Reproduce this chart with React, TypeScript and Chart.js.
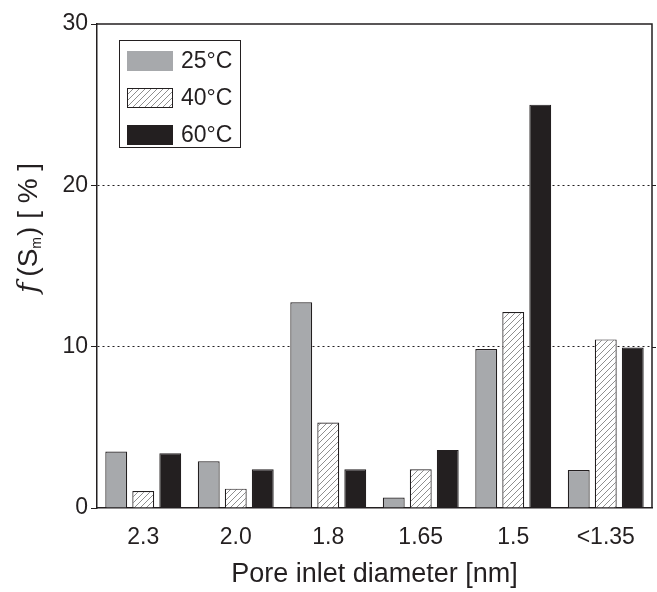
import React, { useEffect, useRef } from "react";
import { Chart, registerables } from "chart.js";

Chart.register(...registerables);

const categories = ["2.3", "2.0", "1.8", "1.65", "1.5", "<1.35"];
const seriesLabels = ["25°C", "40°C", "60°C"];
const values25 = [3.5, 2.9, 12.75, 0.65, 9.85, 2.35];
const values40 = [1.05, 1.2, 5.3, 2.4, 12.15, 10.45];
const values60 = [3.4, 2.4, 2.4, 3.6, 25.0, 9.95];
const yTicks = [0, 10, 20, 30];

const INK = "#231f20";
const GRAY = "#a7a9ac";
const FONT = "'Liberation Sans', Arial, sans-serif";

function makeHatch(): CanvasPattern | string {
  const s = 6;
  const c = document.createElement("canvas");
  c.width = s;
  c.height = s;
  const g = c.getContext("2d");
  if (!g) return "#ffffff";
  g.fillStyle = "#ffffff";
  g.fillRect(0, 0, s, s);
  g.strokeStyle = "#8f8f8f";
  g.lineWidth = 1;
  for (const o of [-s, 0, s]) {
    g.beginPath();
    g.moveTo(o, s);
    g.lineTo(o + s, 0);
    g.stroke();
  }
  return g.createPattern(c, "repeat") || "#ffffff";
}

const framePlugin = {
  id: "frame",
  afterDraw(chart: any) {
    const { ctx, chartArea: a, scales } = chart;
    const y = scales.y;
    ctx.save();
    // top and right frame with outward ticks on the right
    ctx.strokeStyle = INK;
    ctx.lineWidth = 1.5;
    ctx.beginPath();
    ctx.moveTo(a.left, a.top);
    ctx.lineTo(a.right, a.top);
    ctx.lineTo(a.right, a.bottom);
    ctx.stroke();
    ctx.lineWidth = 1;
    for (const v of [10, 20]) {
      const py = Math.round(y.getPixelForValue(v)) + 0.5;
      ctx.beginPath();
      ctx.moveTo(a.right, py);
      ctx.lineTo(a.right + 4, py);
      ctx.stroke();
    }

    // legend box
    const fills = chart.data.datasets.map((d: any) => d.backgroundColor);
    const bx = 119, by = 40, bw = 121, bh = 107;
    ctx.fillStyle = "#ffffff";
    ctx.fillRect(bx, by, bw, bh);
    ctx.lineWidth = 1;
    ctx.strokeStyle = INK;
    ctx.strokeRect(bx + 0.5, by + 0.5, bw, bh);
    const rows = [61, 98, 135];
    ctx.font = `23px ${FONT}`;
    ctx.textBaseline = "middle";
    ctx.textAlign = "left";
    seriesLabels.forEach((lab, i) => {
      const cy = rows[i];
      ctx.fillStyle = fills[i];
      ctx.fillRect(127, cy - 10, 46, 20);
      if (i === 1) {
        ctx.strokeStyle = INK;
        ctx.lineWidth = 1;
        ctx.strokeRect(127.5, cy - 9.5, 45, 19);
      }
      ctx.fillStyle = INK;
      ctx.fillText(lab, 181, cy + 1);
    });

    // rotated y-axis title: f (S_m) [ % ]
    ctx.translate(29, 293);
    ctx.rotate(-Math.PI / 2);
    ctx.textBaseline = "alphabetic";
    ctx.fillStyle = INK;
    let x = 0;
    ctx.font = `italic 28px 'DejaVu Serif', serif`;
    ctx.fillText("f", x, 8);
    x += ctx.measureText("f").width + 6;
    ctx.font = `28px ${FONT}`;
    ctx.fillText("(S", x, 8);
    x += ctx.measureText("(S").width;
    ctx.font = `14px ${FONT}`;
    ctx.fillText("m", x, 12);
    x += ctx.measureText("m").width + 1;
    ctx.font = `28px ${FONT}`;
    ctx.fillText(") [ % ]", x, 8);
    ctx.restore();
  },
};

export default function App() {
  const ref = useRef<HTMLCanvasElement | null>(null);

  useEffect(() => {
    if (!ref.current) return;
    const hatch = makeHatch();
    const common = {
      borderColor: INK,
      borderWidth: 1.2,
      categoryPercentage: 0.876,
      barPercentage: 0.81,
    };
    const chart = new Chart(ref.current, {
      type: "bar",
      data: {
        labels: categories,
        datasets: [
          { label: seriesLabels[0], data: values25, backgroundColor: GRAY, ...common },
          { label: seriesLabels[1], data: values40, backgroundColor: hatch as any, ...common },
          { label: seriesLabels[2], data: values60, backgroundColor: INK, ...common },
        ],
      },
      options: {
        animation: false,
        responsive: false,
        layout: { padding: { left: 0, top: 24, right: 5, bottom: 0 } },
        plugins: {
          legend: { display: false },
          tooltip: { enabled: false },
        },
        scales: {
          x: {
            grid: { display: false, drawTicks: false },
            border: { display: true, color: INK, width: 1.5 },
            ticks: {
              color: INK,
              font: { family: FONT, size: 23 },
              padding: 16,
              maxRotation: 0,
            },
            title: {
              display: true,
              text: "Pore inlet diameter [nm]",
              color: INK,
              font: { family: FONT, size: 27 },
              padding: { top: 4, bottom: 1 },
            },
            afterFit(scale: any) {
              scale.height = 84;
            },
          },
          y: {
            min: 0,
            max: 30,
            afterBuildTicks(scale: any) {
              scale.ticks = yTicks.map((v) => ({ value: v }));
            },
            ticks: {
              color: INK,
              font: { family: FONT, size: 23 },
              padding: 3,
            },
            grid: {
              color: (c: any) =>
                c.tick && (c.tick.value === 10 || c.tick.value === 20) ? INK : "rgba(0,0,0,0)",
              lineWidth: 1,
              tickColor: INK,
              tickLength: 6,
              tickWidth: 1,
            },
            border: { display: true, color: INK, width: 1.5, dash: [2, 3] },
            afterFit(scale: any) {
              scale.width = 97;
            },
          },
        },
      },
      plugins: [framePlugin],
    });
    return () => chart.destroy();
  }, []);

  return (
    <div style={{ position: "fixed", left: 0, top: 0, width: 657, height: 592, background: "#fff" }}>
      <canvas ref={ref} width={657} height={592} style={{ width: 657, height: 592 }} />
    </div>
  );
}
